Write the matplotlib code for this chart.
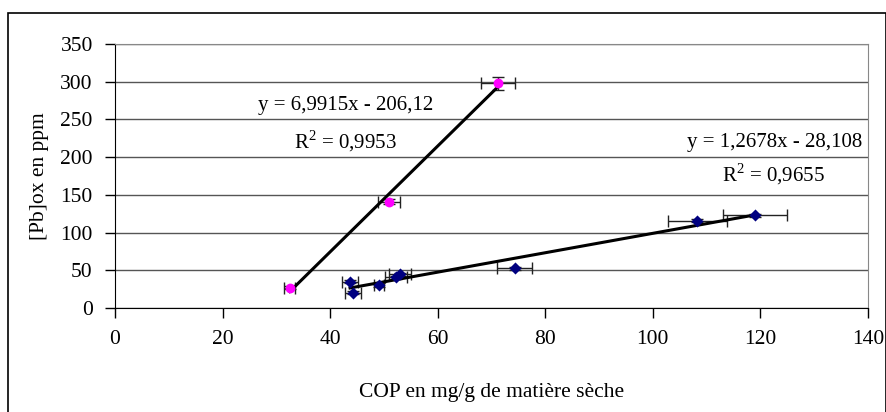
import matplotlib
matplotlib.use('Agg')
import numpy as np
import matplotlib.pyplot as plt
from matplotlib.patches import Rectangle

plt.rcParams['font.family'] = ['Liberation Serif', 'DejaVu Serif']
plt.rcParams['mathtext.fontset'] = 'custom'
plt.rcParams['mathtext.rm'] = 'Liberation Serif'

# series 1 (pink circles)
cop_a = [32.5, 50.9, 71.2]
pb_a = [27, 141, 298]
xerr_a = [1.0, 2.0, 3.2]
yerr_a = [2, 3, 8.5]

# series 2 (navy diamonds)
cop_b = [43.7, 44.3, 49.1, 52.2, 53.0, 74.3, 108.3, 119.0]
pb_b = [35, 20, 30.5, 41, 45, 52.5, 115.5, 123]
xerr_b = [1.5, 1.5, 1.0, 2.0, 2.0, 3.2, 5.5, 6.0]
yerr_b = [2, 2, 2, 2, 2, 2, 2, 2]

fig = plt.figure(figsize=(8.87, 4.12), dpi=100)
ax = fig.add_axes([115 / 887, 1 - 308 / 412, (868 - 115) / 887, (308 - 44) / 412])

ax.errorbar(cop_a, pb_a, xerr=xerr_a, yerr=yerr_a, fmt='none', ecolor='#222222',
            elinewidth=1, capsize=4, capthick=1, zorder=2)
ax.errorbar(cop_b, pb_b, xerr=xerr_b, yerr=yerr_b, fmt='none', ecolor='#222222',
            elinewidth=1, capsize=4, capthick=1, zorder=2)

# linear trendlines over data range
for xs, ys in [(cop_a, pb_a), (cop_b, pb_b)]:
    p = np.polyfit(xs, ys, 1)
    xx = np.array([min(xs), max(xs)])
    ax.plot(xx, np.polyval(p, xx), color='black', lw=2.2, zorder=3)

ax.scatter(cop_a, pb_a, marker='o', s=50, color='#FF00FF', zorder=4, linewidths=0)
ax.scatter(cop_b, pb_b, marker='D', s=38, color='#000080', zorder=4, linewidths=0)

ax.set_xlim(0, 140)
ax.set_ylim(0, 350)
ax.set_xticks(np.arange(0, 141, 20))
ax.set_yticks(np.arange(0, 351, 50))
ax.yaxis.grid(True, color='#555555', lw=1)
ax.set_axisbelow(True)
for s in ['top', 'right']:
    ax.spines[s].set_color('#888888')
for s in ['left', 'bottom']:
    ax.spines[s].set_color('black')
ax.tick_params(axis='both', direction='out', length=7, width=1, labelsize=15.5, pad=9)

ax.set_xlabel('COP en mg/g de matière sèche', fontsize=15.5, labelpad=24)
ax.set_ylabel('[Pb]ox en ppm', fontsize=15.5, labelpad=8)

ax.text(42.85, 269, 'y = 6,9915x - 206,12', fontsize=15, ha='center', va='center')
ax.text(42.85, 221, 'R$^2$ = 0,9953', fontsize=15, ha='center', va='center')
ax.text(139.0, 220, 'y = 1,2678x - 28,108', fontsize=15, ha='right', va='center')
ax.text(132.0, 177, 'R$^2$ = 0,9655', fontsize=15, ha='right', va='center')

fig.patches.append(Rectangle((8 / 887, -0.05), (886 - 8) / 887, 1.05 - 13 / 412,
                             transform=fig.transFigure, fill=False, edgecolor='black',
                             lw=1.2, clip_on=False))

fig.savefig('out.png', dpi=100)
